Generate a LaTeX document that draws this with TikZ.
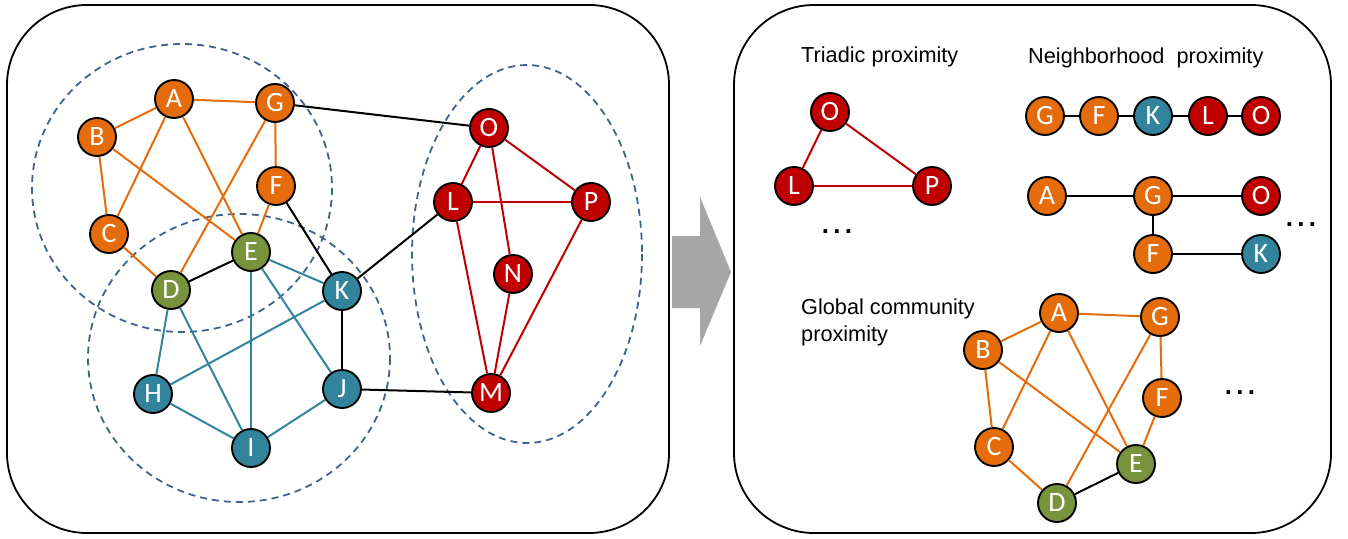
\documentclass[tikz,border=0pt]{standalone}
\usepackage{fontspec}
\setmainfont{Liberation Sans}
\newfontfamily\nodefont{Carlito}
\definecolor{corange}{HTML}{E46C0A}
\definecolor{cgreen}{HTML}{77933C}
\definecolor{cteal}{HTML}{31849B}
\definecolor{cred}{HTML}{C00000}
\definecolor{cdash}{HTML}{41628E}
\definecolor{carrow}{HTML}{A6A6A6}
\tikzset{
  vtx/.style={circle, draw=black, line width=1.9pt, minimum size=38pt, inner sep=0pt,
    text=white, font=\nodefont\fontsize{28}{28}\selectfont},
  vo/.style={vtx, fill=corange},
  vg/.style={vtx, fill=cgreen},
  vt/.style={vtx, fill=cteal},
  vr/.style={vtx, fill=cred},
  eo/.style={draw=corange, line width=2pt},
  et/.style={draw=cteal, line width=2pt},
  er/.style={draw=cred, line width=2pt},
  ek/.style={draw=black, line width=2pt},
  panel/.style={draw=black, line width=1.8pt, rounded corners=80pt},
  community/.style={draw=cdash, line width=1.8pt, dash pattern=on 7pt off 5pt},
  title/.style={anchor=base west, inner sep=0pt, font=\fontsize{21.7}{26}\selectfont},
  dots/.style={inner sep=0pt, font=\bfseries\fontsize{26}{26}\selectfont}
}
\begin{document}
\begin{tikzpicture}[x=1pt, y=-1pt]
\useasboundingbox (0,0) rectangle (1348,538);
% panels
\draw[panel] (7,5) rectangle (669,533);
\draw[panel] (734,5) rectangle (1331,533);
% arrow
\fill[carrow] (672,236) -- (700,236) -- (700,197) -- (731,272) -- (700,346) -- (700,308) -- (672,308) -- cycle;
% communities
\draw[community] (182,188) ellipse [x radius=150, y radius=144];
\draw[community] (239,358) ellipse [x radius=151, y radius=144];
\draw[community] (527,254) ellipse [x radius=115, y radius=189];

% left graph nodes
\node[vo] (A) at (174,99) {A};
\node[vo] (G) at (275,103) {G};
\node[vo] (B) at (97,137) {B};
\node[vo] (F) at (276,186) {F};
\node[vo] (C) at (109,234) {C};
\node[vg] (E) at (251,252) {E};
\node[vg] (D) at (171,290) {D};
\node[vt] (K) at (342,291) {K};
\node[vt] (H) at (153,394) {H};
\node[vt] (J) at (342,389) {J};
\node[vt] (I) at (251,448) {I};
\node[vr] (O) at (489,128) {O};
\node[vr] (L) at (453,202) {L};
\node[vr] (P) at (591,202) {P};
\node[vr] (N) at (513,274) {N};
\node[vr] (M) at (491,393) {M};

% left edges
\foreach \a/\b in {A/B, A/G, A/C, A/E, B/C, B/E, G/F, G/D, F/E, C/D}
  \draw[eo] (\a) -- (\b);
\foreach \a/\b in {G/O, F/K, D/E, K/L, K/J, J/M}
  \draw[ek] (\a) -- (\b);
\foreach \a/\b in {E/K, E/I, E/J, D/H, D/I, K/H, H/I, I/J}
  \draw[et] (\a) -- (\b);
\foreach \a/\b in {O/L, O/N, O/P, L/P, L/M, N/M, P/M}
  \draw[er] (\a) -- (\b);

% right panel titles
\node[title] (t1) at (801,62) {Triadic proximity};
\node[title] (t2) at (1028,63) {Neighborhood\ \ proximity};
\node[title] (t3) at (801,314) {Global community};
\node[title] (t4) at (801,341) {proximity};

% triadic
\node[vr] (tO) at (830,112) {O};
\node[vr] (tL) at (794,186) {L};
\node[vr] (tP) at (932,186) {P};
\draw[er] (tO) -- (tL);
\draw[er] (tO) -- (tP);
\draw[er] (tL) -- (tP);
\node[dots] (d1) at (837,232) {.\,.\,.};

% neighborhood chain
\node[vo] (cG) at (1045,116) {G};
\node[vo] (cF) at (1099,116) {F};
\node[vt] (cK) at (1153,116) {K};
\node[vr] (cL) at (1208,116) {L};
\node[vr] (cO) at (1261,116) {O};
\draw[ek] (cG) -- (cF);
\draw[ek] (cF) -- (cK);
\draw[ek] (cK) -- (cL);
\draw[ek] (cL) -- (cO);

% neighborhood tree
\node[vo] (rA) at (1047,196) {A};
\node[vo] (rG) at (1153,196) {G};
\node[vr] (rO) at (1261,196) {O};
\node[vo] (rF) at (1153,254) {F};
\node[vt] (rK) at (1261,254) {K};
\draw[ek] (rA) -- (rG);
\draw[ek] (rG) -- (rO);
\draw[ek] (rG) -- (rF);
\draw[ek] (rF) -- (rK);
\node[dots] (d2) at (1301,225) {.\,.\,.};

% global community
\node[vo] (gA) at (1059,313) {A};
\node[vo] (gG) at (1160,317) {G};
\node[vo] (gB) at (983,350) {B};
\node[vo] (gF) at (1162,398) {F};
\node[vo] (gC) at (994,447) {C};
\node[vg] (gE) at (1136,464) {E};
\node[vg] (gD) at (1057,503) {D};
\foreach \a/\b in {gA/gB, gA/gG, gA/gC, gA/gE, gB/gC, gB/gE, gG/gF, gG/gD, gF/gE, gC/gD}
  \draw[eo] (\a) -- (\b);
\draw[ek] (gD) -- (gE);
\node[dots] (d3) at (1240,393) {.\,.\,.};
\end{tikzpicture}
\end{document}
